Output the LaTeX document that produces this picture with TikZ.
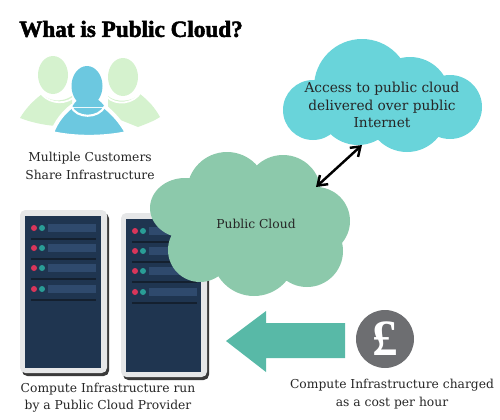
\documentclass[tikz,border=0pt]{standalone}
\usepackage{fontspec}
\setmainfont{DejaVu Serif}
\newfontfamily\titlefont[FakeBold=2.2]{Liberation Serif}
\newfontfamily\coinfont{Liberation Serif}
\usetikzlibrary{arrows.meta,positioning}
\definecolor{cloudgreen}{HTML}{8CC9AB}
\definecolor{cloudblue}{HTML}{69D4DA}
\definecolor{arrowteal}{HTML}{58B9A7}
\definecolor{coingray}{HTML}{6D6E71}
\definecolor{personblue}{HTML}{6CC8E0}
\definecolor{personpale}{HTML}{D5F2CE}
\definecolor{rackframe}{HTML}{E6E7E8}
\definecolor{rackshadow}{HTML}{3A3A3A}
\definecolor{racknavy}{HTML}{1F3550}
\definecolor{rackbar}{HTML}{2F4A6D}
\definecolor{rackline}{HTML}{14202F}
\definecolor{rackred}{HTML}{D9365A}
\definecolor{rackteal}{HTML}{2A9D96}
\tikzset{
  caption/.style={align=center,text=black!85,inner sep=0pt,font=\fontsize{7}{9.9}\selectfont},
}
\begin{document}
\begin{tikzpicture}[x=0.02cm,y=-0.02cm,>={Straight Barb[length=5pt,width=7pt]}]
\useasboundingbox (0,0) rectangle (500,419);
\node[font=\titlefont\bfseries\fontsize{13.2}{16}\selectfont] (title) at (131,29) {What is Public Cloud?};
% side customers
\fill[personpale] (53,75) ellipse[x radius=15,y radius=19];
\fill[personpale] (123,77) ellipse[x radius=15,y radius=19];
\fill[personpale] (20,118) .. controls (26,108) and (33,101) .. (42,94) .. controls (48,101) and (62,103) .. (72,96) -- (72,115) -- (56,126) .. controls (43,125) and (30,122) .. (20,118) -- cycle;
\fill[personpale] (160,117) .. controls (155,108) and (149,101) .. (140,94) .. controls (132,102) and (116,103) .. (108,96) -- (108,115) -- (138,127) .. controls (146,124) and (154,121) .. (160,117) -- cycle;
\draw[white,line width=1pt] (40,92) .. controls (46,102) and (62,106) .. (73,98);
\draw[white,line width=1pt] (141,92) .. controls (134,104) and (116,106) .. (107,97);
% front customer
\filldraw[personblue,draw=white,line width=2.2pt] (52,133) .. controls (56,122) and (63,113) .. (72,106) -- (104,106) .. controls (113,113) and (121,122) .. (127,133) .. controls (103,138) and (75,138) .. (52,133) -- cycle;
\fill[personblue] (87,86) ellipse[x radius=15.5,y radius=20];
\fill[personblue] (72,107) .. controls (76,100) and (80,98) .. (82,98) -- (93,98) .. controls (96,98) and (100,100) .. (105,107) -- cycle;
\draw[white,line width=1.2pt] (71,106) .. controls (76,119) and (99,119) .. (105,106);
\node[caption] (customers) at (90,166) {Multiple Customers\\Share Infrastructure};
% racks
\foreach \ox/\oy/\rackw/\rackh in {20/210/87/163,121/213/86/164} {
  \fill[rackshadow,rounded corners=3pt] (\ox+2,\oy+3) rectangle ++(\rackw,\rackh);
  \fill[rackframe,rounded corners=3pt] (\ox,\oy) rectangle ++(\rackw,\rackh);
  \fill[racknavy] (\ox+5,\oy+6) rectangle (\ox+\rackw-6,\oy+\rackh-5);
  \foreach \row in {0,20,40,61} {
    \fill[rackbar] (\ox+28,\oy+14+\row) rectangle (\ox+76,\oy+22+\row);
    \fill[rackred] (\ox+14,\oy+18+\row) circle(3);
    \fill[rackteal] (\ox+22,\oy+18+\row) circle(3);
    \draw[rackline,line width=0.8pt] (\ox+11,\oy+29+\row) -- (\ox+76,\oy+29+\row);
  }
}
\node[caption] (rackcaption) at (108,397.5) {Compute Infrastructure run\\by a Public Cloud Provider};
% public cloud
\fill[cloudgreen] (185,208) ellipse[x radius=35,y radius=30] (227,192) circle(40) (283,193) circle(38) (316,221) circle(34)
  (200,250) circle(32) (254,254) circle(42) (307,251) circle(36) (250,222) circle(50);
\node[caption] (publiccloud) at (256,224) {Public Cloud};
% internet cloud
\fill[cloudblue] (313,110) circle(30) (362,87) circle(48) (410,97) circle(40) (450,107) circle(32)
  (407,112) circle(40) (358,105) circle(40);
\node[caption,font=\fontsize{7.8}{9.9}\selectfont] (internetcloud) at (382,105) {Access to public cloud\\delivered over public\\Internet};
\coordinate (internetedge) at (362,145);
\coordinate (publicedge) at (316,187);
\draw[<->,line width=1.4pt] (internetedge) -- (publicedge);
% charge arrow and coin
\fill[arrowteal] (226,341) -- (266,311) -- (266,323) -- (345,323) -- (345,358) -- (266,358) -- (266,372) -- cycle;
\fill[coingray] (385,339) circle(29);
\node[text=white,font=\coinfont\bfseries\fontsize{29}{29}\selectfont] (pound) at (385,339) {£};
\node[caption] (chargecaption) at (392,394) {Compute Infrastructure charged\\as a cost per hour};
\end{tikzpicture}
\end{document}
